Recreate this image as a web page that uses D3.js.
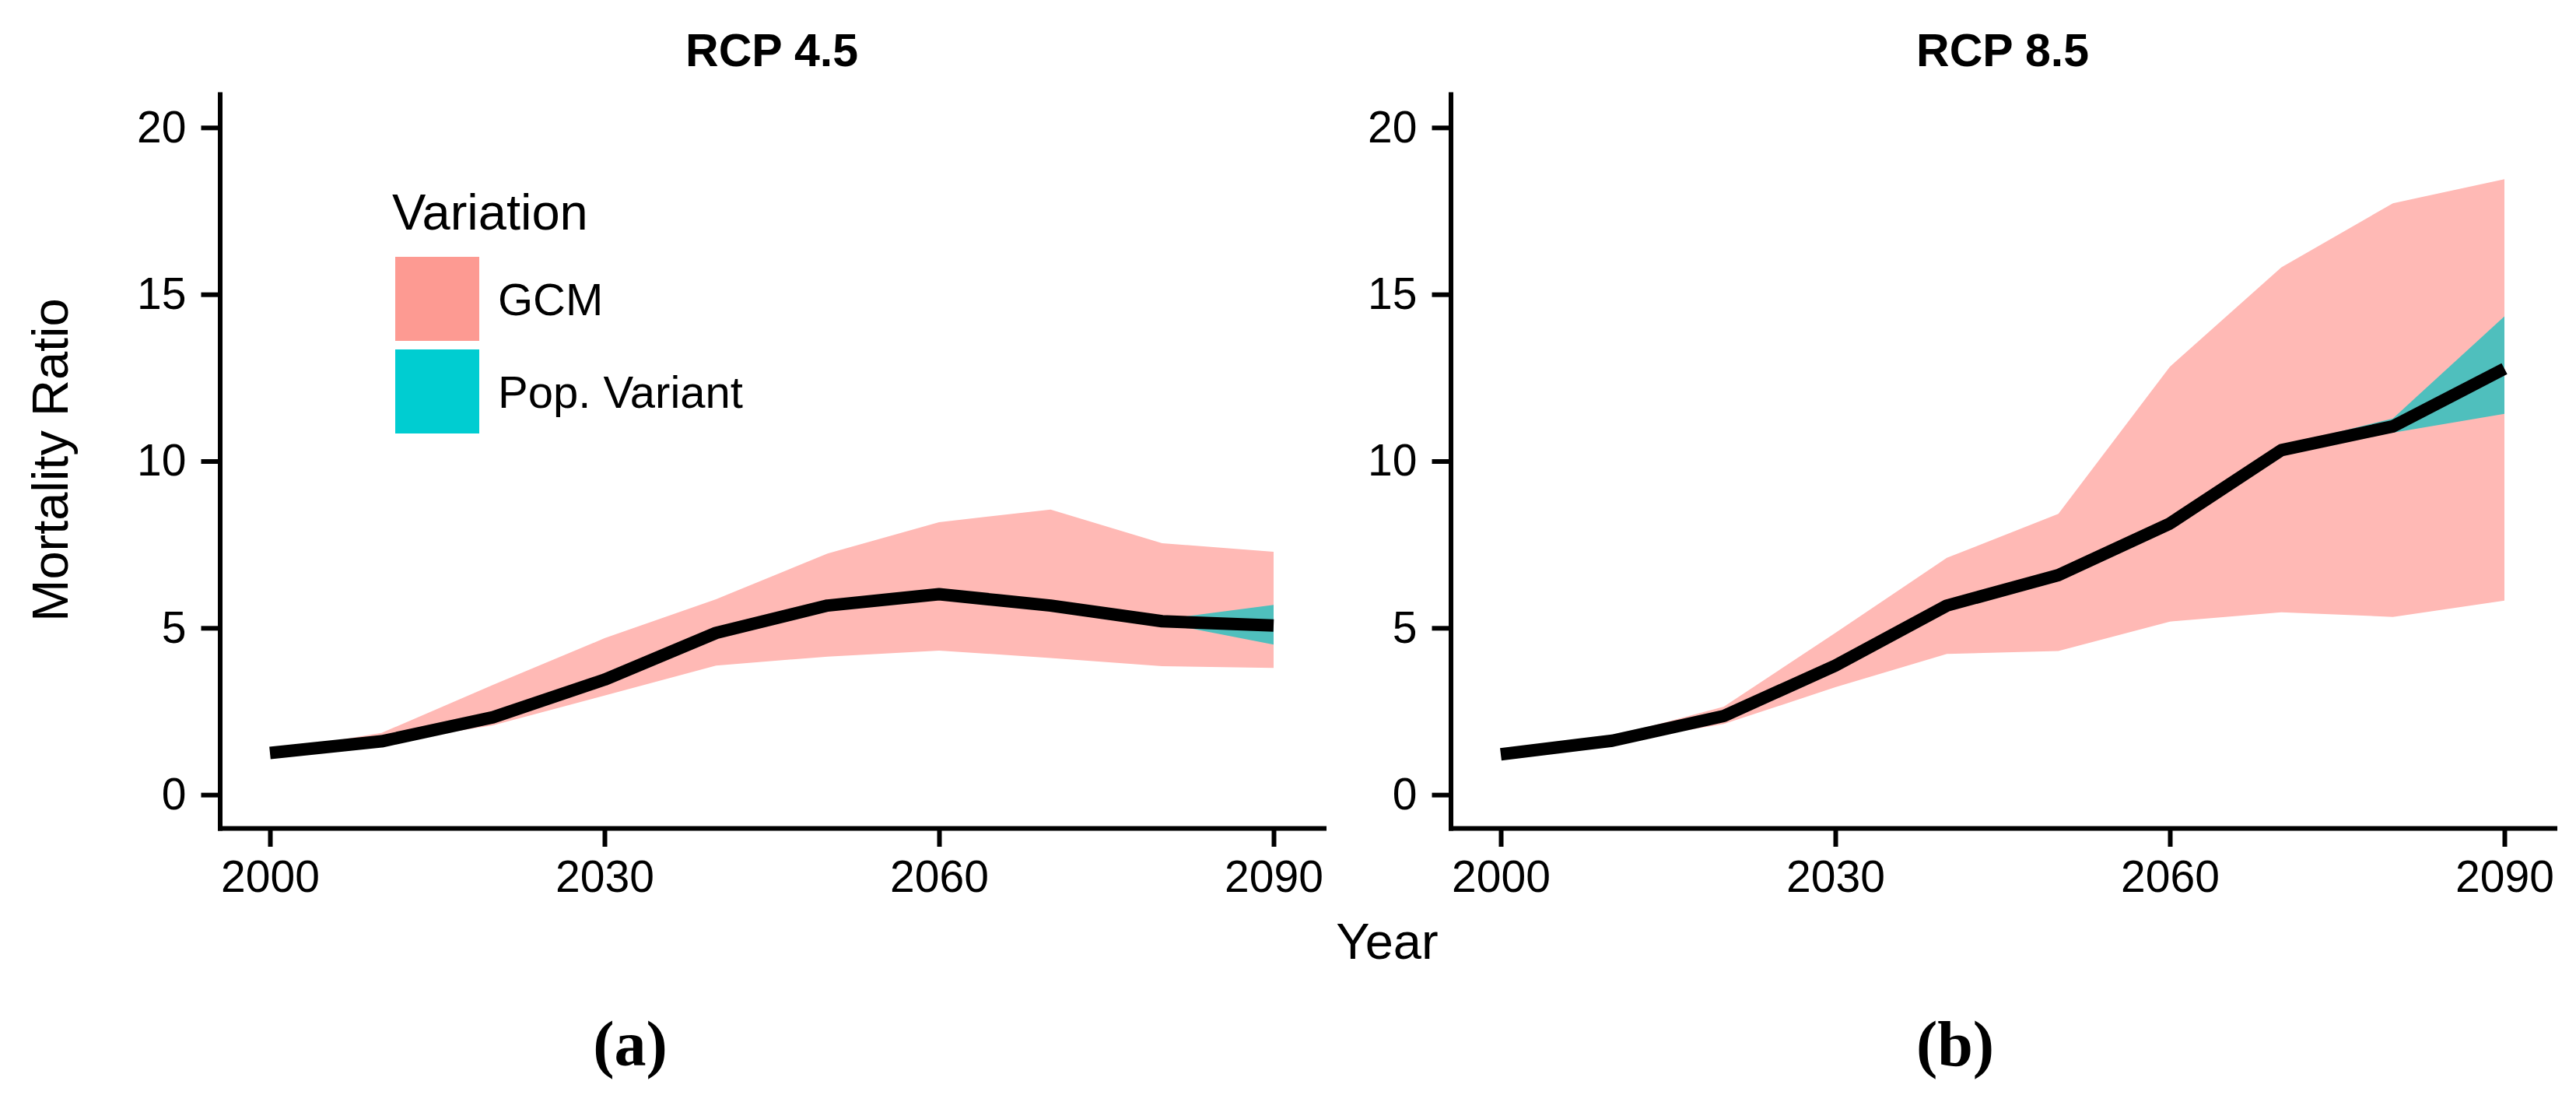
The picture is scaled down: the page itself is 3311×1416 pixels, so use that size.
<!DOCTYPE html>
<html>
<head>
<meta charset="utf-8">
<script src="https://cdn.jsdelivr.net/npm/d3@7"></script>
<style>
    html, body { margin: 0; padding: 0; background: #fff; }
    svg { display: block; font-family: "Liberation Sans", Arial, sans-serif; }
</style>
</head>
<body>
<script>
// values (mortality ratio by decade)
const years = [2000, 2010, 2020, 2030, 2040, 2050, 2060, 2070, 2080, 2090];

const rcp45Mean = [1.25, 1.6, 2.32, 3.45, 4.85, 5.67, 6.01, 5.67, 5.2, 5.07];
const rcp45GcmLow = [1.2, 1.55, 2.08, 2.97, 3.87, 4.14, 4.32, 4.1, 3.85, 3.8];
const rcp45GcmHigh = [1.3, 1.85, 3.29, 4.69, 5.86, 7.23, 8.17, 8.55, 7.54, 7.28];

const rcp85Mean = [1.21, 1.62, 2.36, 3.87, 5.67, 6.58, 8.13, 10.33, 11.04, 12.77];
const rcp85GcmLow = [1.15, 1.55, 2.12, 3.22, 4.22, 4.31, 5.19, 5.47, 5.33, 5.82];
const rcp85GcmHigh = [1.3, 1.75, 2.64, 4.85, 7.1, 8.42, 12.83, 15.81, 17.73, 18.45];

// the population variant band only opens up at the end of the century
const popYears = [2070, 2080, 2090];
const rcp45PopLow = [5.65, 5.15, 4.5];
const rcp45PopHigh = [5.69, 5.25, 5.69];
const rcp85PopLow = [10.3, 10.85, 11.42];
const rcp85PopHigh = [10.45, 11.28, 14.34];

const yTicks = [0, 5, 10, 15, 20];
const xTicks = [2000, 2030, 2060, 2090];
const legendItems = ["GCM", "Pop. Variant"];

const W = 3311, H = 1416;
const gcmBand = "#ffb9b5", popBand = "#4fbfbd";
const legendColors = ["#fd9a92", "#00cdd1"];

const svg = d3.select("body").append("svg")
    .attr("width", W)
    .attr("height", H);

function zip(xs, a, b) {
    return xs.map((year, i) => ({year: year, lo: a[i], hi: b === undefined ? a[i] : b[i]}));
}

function drawPanel(title, left, mean, gcmLow, gcmHigh, popLow, popHigh) {
    let x = d3.scaleLinear().domain([1995.5, 2094.5]).range([left, left + 1419]);
    let y = d3.scaleLinear().domain([-1, 21]).range([1064, 121]);
    let g = svg.append("g");

    let area = d3.area()
        .x(d => x(d.year))
        .y0(d => y(d.lo))
        .y1(d => y(d.hi));

    g.append("path")
        .datum(zip(years, gcmLow, gcmHigh))
        .attr("fill", gcmBand)
        .attr("d", area);

    g.append("path")
        .datum(zip(popYears, popLow, popHigh))
        .attr("fill", popBand)
        .attr("d", area);

    g.append("path")
        .datum(zip(years, mean))
        .attr("fill", "none")
        .attr("stroke", "#000")
        .attr("stroke-width", 16)
        .attr("stroke-linejoin", "round")
        .attr("d", d3.line().x(d => x(d.year)).y(d => y(d.lo)));

    // axes, theme_classic style
    let xAxis = g.append("g")
        .attr("transform", `translate(0,${y.range()[0]})`)
        .call(d3.axisBottom(x).tickValues(xTicks).tickFormat(d3.format("d"))
            .tickSize(24).tickSizeOuter(0).tickPadding(18));
    let yAxis = g.append("g")
        .attr("transform", `translate(${x.range()[0]},0)`)
        .call(d3.axisLeft(y).tickValues(yTicks).tickSize(24).tickSizeOuter(0).tickPadding(19));

    [xAxis, yAxis].forEach(a => {
        a.select(".domain").attr("stroke-width", 6).attr("stroke-linecap", "square");
        a.selectAll(".tick line").attr("stroke-width", 6);
        a.selectAll(".tick text")
            .attr("fill", "#000")
            .style("font-family", "'Liberation Sans', Arial, sans-serif")
            .style("font-size", "57px");
    });

    g.append("text")
        .attr("x", (x.range()[0] + x.range()[1]) / 2)
        .attr("y", 85)
        .attr("text-anchor", "middle")
        .style("font-weight", "bold")
        .style("font-size", "59px")
        .text(title);

    return {x: x, y: y};
}

drawPanel("RCP 4.5", 282.5, rcp45Mean, rcp45GcmLow, rcp45GcmHigh, rcp45PopLow, rcp45PopHigh);
drawPanel("RCP 8.5", 1864.5, rcp85Mean, rcp85GcmLow, rcp85GcmHigh, rcp85PopLow, rcp85PopHigh);

// legend sits inside the left panel
let legend = svg.append("g").attr("transform", "translate(504,0)");
legend.append("text")
    .attr("x", 0)
    .attr("y", 295)
    .style("font-size", "65px")
    .text("Variation");

let keys = legend.selectAll(".key")
    .data(legendItems)
    .enter()
    .append("g")
    .attr("class", "key")
    .attr("transform", (d, i) => `translate(4,${330 + i * 119})`);
keys.append("rect")
    .attr("width", 108)
    .attr("height", 108)
    .attr("fill", (d, i) => legendColors[i]);
keys.append("text")
    .attr("x", 132)
    .attr("y", 54)
    .attr("dy", "0.36em")
    .style("font-size", "58px")
    .text(d => d);

// shared axis titles
svg.append("text")
    .attr("transform", "translate(87,591) rotate(-90)")
    .attr("text-anchor", "middle")
    .style("font-size", "65px")
    .text("Mortality Ratio");

svg.append("text")
    .attr("x", 1783)
    .attr("y", 1232)
    .attr("text-anchor", "middle")
    .style("font-size", "65px")
    .text("Year");

// sub-figure letters
[["(a)", 810], ["(b)", 2513]].forEach(([label, cx]) => {
    svg.append("text")
        .attr("x", cx)
        .attr("y", 1369)
        .attr("text-anchor", "middle")
        .style("font-family", "'Liberation Serif', 'Times New Roman', serif")
        .style("font-weight", "bold")
        .style("font-size", "82px")
        .text(label);
});
</script>
</body>
</html>
